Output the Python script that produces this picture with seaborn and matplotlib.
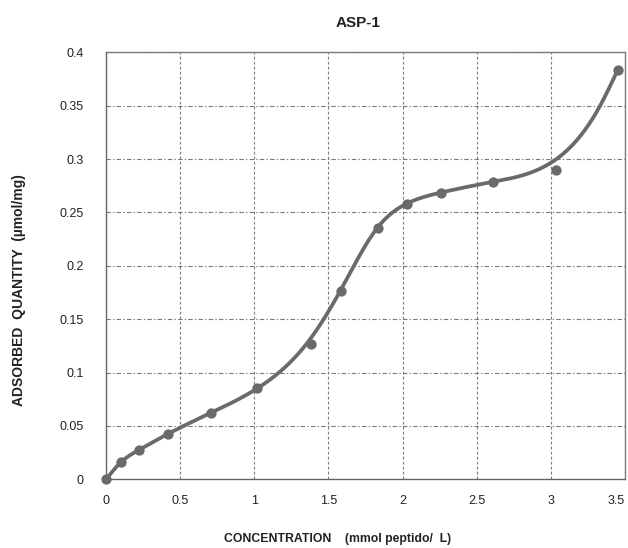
import numpy as np
import pandas as pd
import matplotlib
matplotlib.use("Agg")
import matplotlib.pyplot as plt
import seaborn as sns
from matplotlib.ticker import FuncFormatter

# measured points
conc = [0.0, 0.10, 0.22, 0.42, 0.705, 1.02, 1.385, 1.583, 1.835, 2.027, 2.257, 2.612, 3.036, 3.453]
ads = [0.0, 0.016, 0.0274, 0.0427, 0.0618, 0.0852, 0.1267, 0.1766, 0.2356, 0.2584, 0.2687, 0.2787, 0.2896, 0.3839]

# knots of the drawn smooth curve
curve_x = [0.0, 0.10, 0.22, 0.42, 0.70, 1.02, 1.38, 1.58, 1.83, 2.03, 2.26, 2.61, 3.00, 3.333, 3.453]
curve_y = [0.0, 0.016, 0.0274, 0.0427, 0.0618, 0.0852, 0.132, 0.1766, 0.2356, 0.2584, 0.2687, 0.2787, 0.2965, 0.350, 0.3839]

x_ticks = [0, 0.5, 1, 1.5, 2, 2.5, 3, 3.5]
y_ticks = [0, 0.05, 0.1, 0.15, 0.2, 0.25, 0.3, 0.35, 0.4]

title = "ASP-1"
xlabel = "CONCENTRATION    (mmol peptido/  L)"
ylabel = "ADSORBED  QUANTITY  (\u00b5mol/mg)"


def smooth(xs, ys, n=400):
    # natural cubic spline rendering of the smoothed line
    x = np.asarray(xs, float)
    y = np.asarray(ys, float)
    m = len(x)
    h = np.diff(x)
    A = np.zeros((m, m))
    b = np.zeros(m)
    A[0, 0] = A[-1, -1] = 1.0
    for i in range(1, m - 1):
        A[i, i - 1] = h[i - 1]
        A[i, i] = 2 * (h[i - 1] + h[i])
        A[i, i + 1] = h[i]
        b[i] = 6 * ((y[i + 1] - y[i]) / h[i] - (y[i] - y[i - 1]) / h[i - 1])
    M = np.linalg.solve(A, b)
    xx = np.linspace(x[0], x[-1], n)
    idx = np.clip(np.searchsorted(x, xx) - 1, 0, m - 2)
    x0, x1 = x[idx], x[idx + 1]
    hh = x1 - x0
    t0, t1 = x1 - xx, xx - x0
    yy = (M[idx] * t0 ** 3 + M[idx + 1] * t1 ** 3) / (6 * hh) \
        + (y[idx] / hh - M[idx] * hh / 6) * t0 + (y[idx + 1] / hh - M[idx + 1] * hh / 6) * t1
    return xx, yy


sns.set_theme(style="white")
plt.rcParams['font.family'] = ['Liberation Sans', 'DejaVu Sans']

fig = plt.figure(figsize=(6.28, 5.48), dpi=100)
ax = fig.add_axes([0.169, 0.1254, 0.826, 0.779])

col = "#6a6a6a"
sx, sy = smooth(curve_x, curve_y)
curve_df = pd.DataFrame({"x": sx, "y": sy})
sns.lineplot(data=curve_df, x="x", y="y", sort=False, ax=ax, color=col,
             linewidth=2.7, estimator=None, zorder=3)
pts = pd.DataFrame({"x": conc, "y": ads})
sns.scatterplot(data=pts, x="x", y="y", ax=ax, color=col, s=55,
                edgecolor=col, linewidth=0, zorder=4, clip_on=False)

ax.set_xlim(0, 3.5)
ax.set_ylim(0, 0.4)
ax.set_xticks(x_ticks)
ax.set_yticks(y_ticks)
fmt = FuncFormatter(lambda v, p: "%g" % round(v, 3))
ax.xaxis.set_major_formatter(fmt)
ax.yaxis.set_major_formatter(fmt)

ax.xaxis.grid(True, color="#7a7a7a", linestyle=(0, (2.5, 2)), linewidth=0.8)
ax.yaxis.grid(True, color="#7a7a7a", linestyle=(0, (4, 2, 1.2, 2)), linewidth=0.8)
ax.set_axisbelow(True)

for s in ax.spines.values():
    s.set_visible(True)
    s.set_color("#7a7a7a")
    s.set_linewidth(1.0)
ax.spines["left"].set_color("#666666")
ax.spines["bottom"].set_color("#666666")

ax.tick_params(axis="x", length=0, pad=11, labelsize=9, labelcolor="#222222")
ax.tick_params(axis="y", length=0, pad=16, labelsize=9, labelcolor="#222222")
# keep the last x label inside the canvas
ax.xaxis.get_major_ticks()[-1].label1.set_horizontalalignment("right")

ax.set_xlabel("")
ax.set_ylabel("")
fig.text(358 / 628, 1 - 23 / 548, title, ha="center", va="center",
         fontsize=11, fontweight="bold", color="#222222")
fig.text(338 / 628, 1 - 539 / 548, xlabel, ha="center", va="center",
         fontsize=8.8, fontweight="bold", color="#222222")
fig.text(19 / 628, 1 - 290 / 548, ylabel, ha="center", va="center",
         rotation=90, fontsize=10, fontweight="bold", color="#222222")

fig.savefig("out.png", dpi=100, facecolor="white")
